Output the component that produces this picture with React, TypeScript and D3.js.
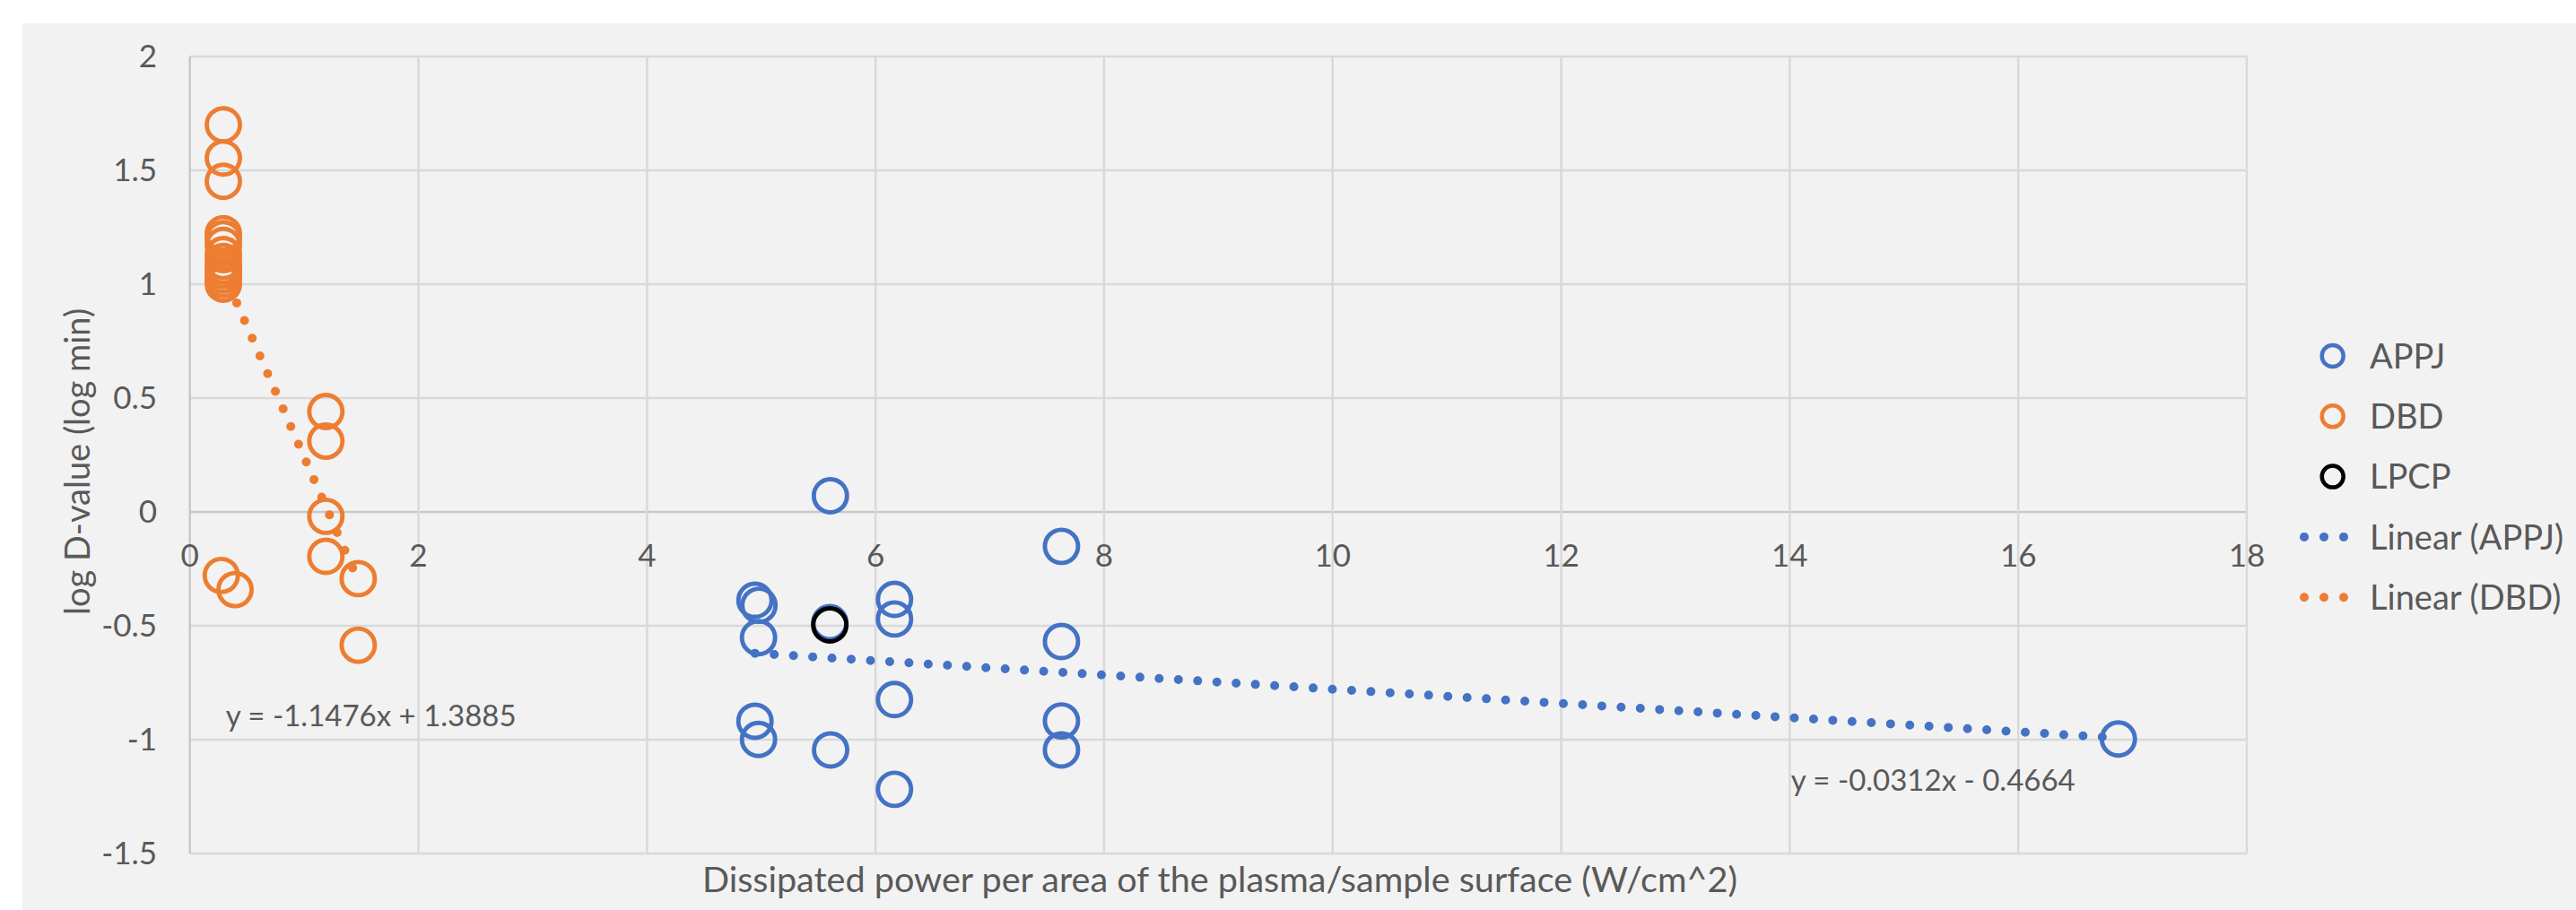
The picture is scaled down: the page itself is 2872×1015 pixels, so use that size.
import React from "react";
import * as d3 from "d3";

// APPJ series
const appjX = [5.605, 4.945, 4.98, 4.976, 5.6, 6.166, 6.166, 6.166, 6.166, 4.945, 4.976, 5.607, 7.627, 7.627, 7.627, 7.627, 16.876];
const appjY = [0.071, -0.388, -0.41, -0.552, -0.486, -0.384, -0.47, -0.824, -1.218, -0.919, -0.999, -1.045, -0.151, -0.569, -0.918, -1.045, -0.997];

// DBD series
const dbdX = [0.293, 0.293, 0.293, 0.293, 0.293, 0.293, 0.293, 0.293, 0.293, 0.293, 0.293, 0.293, 0.293, 1.19, 1.19, 1.19, 1.19, 1.473, 1.473, 0.275, 0.395];
const dbdY = [1.7, 1.554, 1.452, 1.222, 1.2, 1.17, 1.13, 1.1, 1.08, 1.06, 1.04, 1.02, 1.0, 0.441, 0.311, -0.019, -0.195, -0.293, -0.585, -0.279, -0.341];

// LPCP series
const lpcpX = [5.6];
const lpcpY = [-0.496];

// linear trend coefficients [slope, intercept]
const appjTrend = [-0.0312, -0.4664];
const dbdTrend = [-1.1476, 1.3885];

const xTicks = [0, 2, 4, 6, 8, 10, 12, 14, 16, 18];
const yTicks = [-1.5, -1, -0.5, 0, 0.5, 1, 1.5, 2];

const legendItems = ["APPJ", "DBD", "LPCP", "Linear (APPJ)", "Linear (DBD)"];

const BLUE = "#4472c4";
const ORANGE = "#ed7d31";
const FONT = "Lato, 'Open Sans', sans-serif";
const TXT = "#595959";

export default function App() {
  const W = 2872;
  const H = 1015;
  const left = 211.7, right = 2505, top = 63, bottom = 952;

  const x = d3.scaleLinear().domain([0, 18]).range([left, right]);
  const y = d3.scaleLinear().domain([-1.5, 2]).range([bottom, top]);

  const trendPath = (xs: number[], coef: number[]) => {
    const [lo, hi] = d3.extent(xs) as [number, number];
    return d3.line<number>()
      .x((d) => x(d))
      .y((d) => y(coef[0] * d + coef[1]))([lo, hi]);
  };

  const fmt = (v: number) => String(v);

  const markerR = 18.5;
  const markerW = 4.9;

  return (
    <svg width={W} height={H} style={{ position: "absolute", left: 0, top: 0, display: "block" }}>
      <rect x={0} y={0} width={W} height={H} fill="#ffffff" />
      <rect x={25} y={26} width={W - 25} height={H - 26} fill="#f2f2f2" />

      {/* gridlines */}
      {yTicks.map((t) => (
        <line key={"gy" + t} x1={left} x2={right} y1={y(t)} y2={y(t)} stroke={t === 0 ? "#c8c8c8" : "#d9d9d9"} strokeWidth={2.5} />
      ))}
      {xTicks.map((t) => (
        <line key={"gx" + t} x1={x(t)} x2={x(t)} y1={top} y2={bottom} stroke={t === 0 ? "#c8c8c8" : "#d9d9d9"} strokeWidth={2.5} />
      ))}

      {/* tick labels */}
      {yTicks.map((t) => (
        <text key={"ly" + t} x={175} y={y(t)} dy="0.35em" textAnchor="end" fontFamily={FONT} fontSize={35} fill={TXT}>
          {fmt(t)}
        </text>
      ))}
      {xTicks.map((t) => (
        <text key={"lx" + t} x={x(t)} y={y(0) + 61} textAnchor="middle" fontFamily={FONT} fontSize={35} fill={TXT}>
          {fmt(t)}
        </text>
      ))}

      {/* axis titles */}
      <text x={1360} y={995} textAnchor="middle" fontFamily={FONT} fontSize={39.6} fill={TXT}>
        Dissipated power per area of the plasma/sample surface (W/cm^2)
      </text>
      <text transform={`translate(100,515) rotate(-90)`} textAnchor="middle" fontFamily={FONT} fontSize={38} fill={TXT}>
        log D-value (log min)
      </text>

      {/* markers */}
      {appjX.map((v, i) => (
        <circle key={"a" + i} cx={x(v)} cy={y(appjY[i])} r={markerR} fill="none" stroke={BLUE} strokeWidth={markerW} />
      ))}
      {dbdX.map((v, i) => (
        <circle key={"d" + i} cx={x(v)} cy={y(dbdY[i])} r={markerR} fill="none" stroke={ORANGE} strokeWidth={markerW} />
      ))}
      {lpcpX.map((v, i) => (
        <circle key={"l" + i} cx={x(v)} cy={y(lpcpY[i])} r={markerR} fill="none" stroke="#000000" strokeWidth={markerW} />
      ))}

      {/* trendlines */}
      <path d={trendPath(appjX, appjTrend) || ""} fill="none" stroke={BLUE} strokeWidth={10} strokeLinecap="round" strokeDasharray="0 21.5" />
      <path d={trendPath(dbdX, dbdTrend) || ""} fill="none" stroke={ORANGE} strokeWidth={10} strokeLinecap="round" strokeDasharray="0 21.5" />

      {/* equations */}
      <text x={x(0.314)} y={y(-0.895)} dy="0.35em" fontFamily={FONT} fontSize={33} fill={TXT}>
        y = -1.1476x + 1.3885
      </text>
      <text x={x(14.01)} y={y(-1.178)} dy="0.35em" fontFamily={FONT} fontSize={33} fill={TXT}>
        y = -0.0312x - 0.4664
      </text>

      {/* legend */}
      {legendItems.map((name, i) => {
        const ly = 397 + i * 67.3;
        const isLine = i >= 3;
        const color = i === 0 || i === 3 ? BLUE : i === 1 || i === 4 ? ORANGE : "#000000";
        return (
          <g key={name}>
            {isLine ? (
              <line x1={2569} x2={2635} y1={ly} y2={ly} stroke={color} strokeWidth={10} strokeLinecap="round" strokeDasharray="0 22" />
            ) : (
              <circle cx={2600.7} cy={ly} r={12} fill="none" stroke={color} strokeWidth={4.5} />
            )}
            <text x={2642} y={ly} dy="0.36em" fontFamily={FONT} fontSize={38} fill={TXT}>
              {name}
            </text>
          </g>
        );
      })}
    </svg>
  );
}
